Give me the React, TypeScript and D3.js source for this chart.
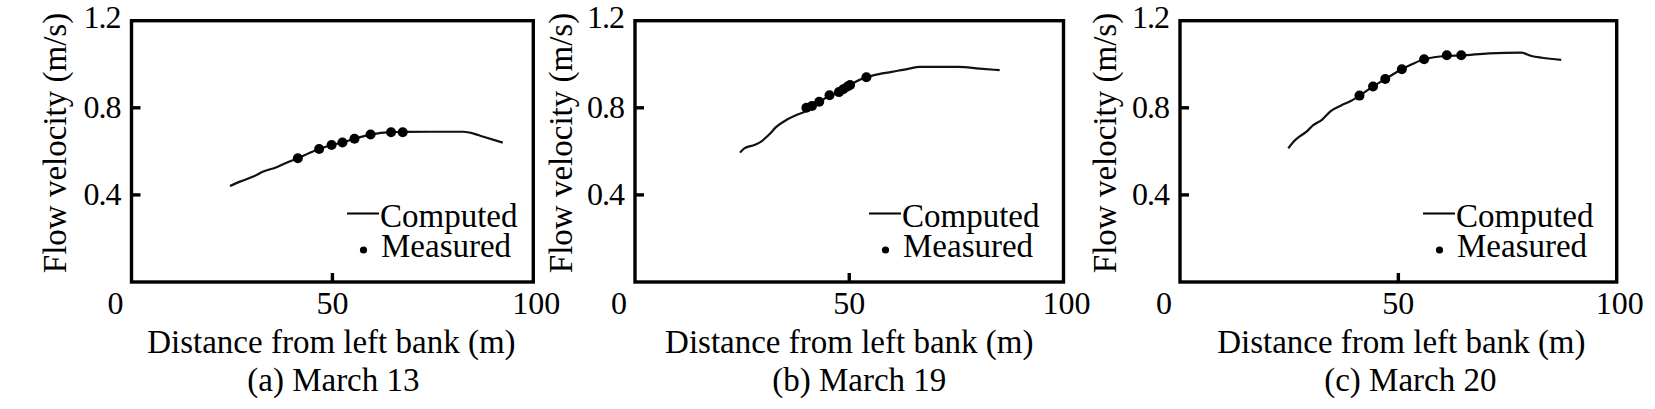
import React from "react";
import * as d3 from "d3";

// ---------- DATA ----------
const xTicks = [0, 50, 100];
const yTicks = [0.4, 0.8, 1.2];
const panelLabels = ["(a) March 13", "(b) March 19", "(c) March 20"];
const xTitle = "Distance from left bank (m)";
const yTitle = "Flow velocity (m/s)";
const legendLabels = ["Computed", "Measured"];

const computedA: [number, number][] = [
  [24.5, 0.441], [27.0, 0.461], [30.3, 0.484], [32.8, 0.507], [36.1, 0.527],
  [38.6, 0.548], [41.4, 0.568], [44.4, 0.594], [46.7, 0.611], [49.8, 0.629],
  [52.5, 0.641], [55.5, 0.658], [59.5, 0.677], [64.6, 0.688], [67.5, 0.689],
  [75.0, 0.690], [82.6, 0.690], [84.2, 0.686], [87.6, 0.667], [92.4, 0.640],
];
const measuredA: [number, number][] = [
  [41.4, 0.568], [46.7, 0.611], [49.8, 0.629], [52.5, 0.641], [55.5, 0.658],
  [59.5, 0.677], [64.6, 0.688], [67.5, 0.688],
];

const computedB: [number, number][] = [
  [24.5, 0.594], [25.5, 0.614], [28.0, 0.630], [29.6, 0.647], [31.3, 0.677],
  [32.9, 0.711], [35.4, 0.745], [37.8, 0.768], [39.9, 0.785], [41.3, 0.806],
  [43.0, 0.826], [45.4, 0.856], [47.6, 0.872], [49.6, 0.896], [51.5, 0.920],
  [54.0, 0.940], [55.8, 0.950], [59.9, 0.965], [64.0, 0.980], [66.4, 0.988],
  [75.5, 0.988], [80.4, 0.980], [85.1, 0.973],
];
const measuredB: [number, number][] = [
  [40.0, 0.800], [41.3, 0.808], [43.0, 0.828], [45.4, 0.858], [47.6, 0.872],
  [48.6, 0.885], [49.6, 0.898], [50.2, 0.905], [54.0, 0.940],
];

const computedC: [number, number][] = [
  [24.8, 0.614], [26.0, 0.644], [27.3, 0.667], [28.9, 0.689], [30.5, 0.720],
  [32.5, 0.745], [34.5, 0.785], [36.9, 0.811], [39.0, 0.830], [41.1, 0.856],
  [44.2, 0.898], [47.0, 0.932], [50.8, 0.977], [53.1, 1.000], [55.9, 1.023],
  [61.1, 1.038], [64.4, 1.040], [70.8, 1.050], [78.1, 1.053], [80.5, 1.038],
  [82.9, 1.030], [87.3, 1.020],
];
const measuredC: [number, number][] = [
  [41.1, 0.856], [44.2, 0.898], [47.0, 0.932], [50.8, 0.977], [55.9, 1.023],
  [61.1, 1.041], [64.4, 1.041],
];

// ---------- LAYOUT ----------
const W = 1655;
const H = 409;
const TOP = 20.7;
const BOTTOM = 282;
const FONT = "'Liberation Serif', 'Times New Roman', Times, serif";

const panels = [
  { left: 131.5, right: 533.3, computed: computedA, measured: measuredA, legendX: 347, yTitleX: 65.5, subDx: 1, titleDx: -1 },
  { left: 635, right: 1063.5, computed: computedB, measured: measuredB, legendX: 869, yTitleX: 571.5, subDx: 10, titleDx: 0 },
  { left: 1180, right: 1616.7, computed: computedC, measured: measuredC, legendX: 1423, yTitleX: 1115.5, subDx: 12, titleDx: 3 },
];

function Panel({ p, label }: { p: typeof panels[number]; label: string }) {
  const x = d3.scaleLinear().domain([0, 100]).range([p.left, p.right]);
  const y = d3.scaleLinear().domain([0, 1.2]).range([BOTTOM, TOP]);
  const line = d3
    .line<[number, number]>()
    .x((d) => x(d[0]))
    .y((d) => y(d[1]))
    .curve(d3.curveMonotoneX);
  const cx = (p.left + p.right) / 2;
  const sw = 3.4;
  return (
    <g fontFamily={FONT} fill="#000">
      <path d={line(p.computed) || ""} fill="none" stroke="#111" strokeWidth={2.2} />
      {p.measured.map((d, i) => (
        <circle key={i} cx={x(d[0])} cy={y(d[1])} r={5} fill="#000" />
      ))}
      <rect x={p.left} y={TOP} width={p.right - p.left} height={BOTTOM - TOP} fill="none" stroke="#000" strokeWidth={sw} />
      {yTicks.map((t) => (
        <g key={"y" + t}>
          {t < 1.2 && <line x1={p.left} x2={p.left + 9} y1={y(t)} y2={y(t)} stroke="#000" strokeWidth={sw} />}
          <text x={p.left - 11} y={y(t) + (t === 1.2 ? 6.8 : 10.5)} textAnchor="end" fontSize={32} letterSpacing={-1}>
            {t.toFixed(1)}
          </text>
        </g>
      ))}
      {xTicks.map((t) => {
        const dx = t === 0 ? -16 : t === 100 ? 3 : 0;
        return (
          <g key={"x" + t}>
            {t > 0 && t < 100 && <line x1={x(t)} x2={x(t)} y1={BOTTOM} y2={BOTTOM - 9} stroke="#000" strokeWidth={sw} />}
            <text x={x(t) + dx} y={314} textAnchor="middle" fontSize={32}>
              {t}
            </text>
          </g>
        );
      })}
      <text x={cx + p.titleDx} y={353} textAnchor="middle" fontSize={33}>
        {xTitle}
      </text>
      <text transform={`translate(${p.yTitleX},143) rotate(-90)`} textAnchor="middle" fontSize={33}>
        {yTitle}
      </text>
      <text x={cx + p.subDx} y={391} textAnchor="middle" fontSize={33}>
        {label}
      </text>
      <line x1={p.legendX} x2={p.legendX + 32} y1={213.5} y2={213.5} stroke="#000" strokeWidth={2} />
      <text x={p.legendX + 33} y={226.7} fontSize={33}>
        {legendLabels[0]}
      </text>
      <circle cx={p.legendX + 16.5} cy={250} r={3.6} fill="#000" />
      <text x={p.legendX + 34} y={256.7} fontSize={33}>
        {legendLabels[1]}
      </text>
    </g>
  );
}

export default function App() {
  return (
    <svg
      width={W}
      height={H}
      viewBox={`0 0 ${W} ${H}`}
      style={{ position: "absolute", left: 0, top: 0, display: "block", background: "#fff" }}
    >
      <rect x={0} y={0} width={W} height={H} fill="#fff" />
      {panels.map((p, i) => (
        <Panel key={i} p={p} label={panelLabels[i]} />
      ))}
    </svg>
  );
}
